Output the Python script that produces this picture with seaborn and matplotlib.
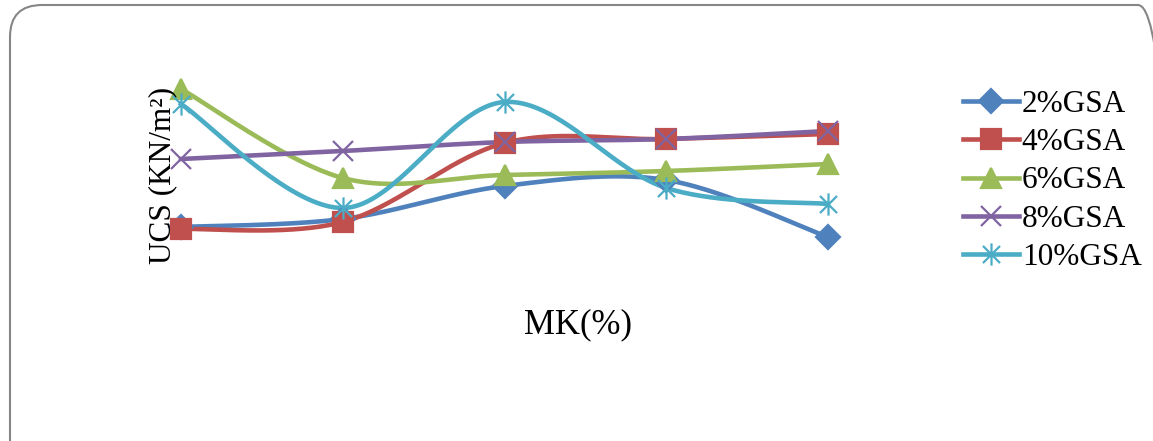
import numpy as np
import pandas as pd
import seaborn as sns
import matplotlib.pyplot as plt
from matplotlib.lines import Line2D
from matplotlib.patches import FancyBboxPatch
from matplotlib.path import Path

# ---------- DATA (arbitrary UCS units) ----------
mk = [0, 1, 2, 3, 4]
gsa_2 = [73, 81, 114, 120, 63]
gsa_4 = [71, 78, 157, 161, 166]
gsa_6 = [211, 122, 125, 129, 136]
gsa_8 = [141, 149, 158, 161, 169]
gsa_10 = [196, 92, 198, 112, 96]

names = ["2%GSA", "4%GSA", "6%GSA", "8%GSA", "10%GSA"]
series = [gsa_2, gsa_4, gsa_6, gsa_8, gsa_10]
colors = ["#4F81BD", "#C0504D", "#9BBB59", "#8064A2", "#4BACC6"]

# excel "star" marker: an x with a vertical bar through it
star = Path([(-1, -1), (1, 1), (-1, 1), (1, -1), (0, -1.3), (0, 1.3)],
            [Path.MOVETO, Path.LINETO, Path.MOVETO, Path.LINETO, Path.MOVETO, Path.LINETO])
markers = ["D", "s", "^", "x", star]
msizes = [12, 14, 14, 14, 16]


def smooth(xs, ys, n=40):
    # excel-style smoothed line (bezier with catmull-rom control points)
    p = np.column_stack([xs, ys]).astype(float)
    p = np.vstack([p[0], p, p[-1]])
    out = []
    t = np.linspace(0, 1, n)[:, None]
    for i in range(1, len(p) - 2):
        p0, p1, p2, p3 = p[i - 1], p[i], p[i + 1], p[i + 2]
        b1 = p1 + (p2 - p0) / 6
        b2 = p2 - (p3 - p1) / 6
        seg = ((1 - t) ** 3) * p1 + 3 * ((1 - t) ** 2) * t * b1 + 3 * (1 - t) * t ** 2 * b2 + t ** 3 * p2
        out.append(seg if i == 1 else seg[1:])
    return np.vstack(out)


rows = []
for name, ys in zip(names, series):
    c = smooth(mk, ys)
    rows.append(pd.DataFrame({"x": c[:, 0], "y": c[:, 1], "series": name}))
curves = pd.concat(rows)

points = pd.DataFrame({
    "x": np.tile(mk, len(names)),
    "y": np.concatenate(series),
    "series": np.repeat(names, len(mk)),
})

# ---------- PLOT ----------
plt.rcParams["font.family"] = ["Liberation Serif", "DejaVu Serif"]
fig = plt.figure(figsize=(11.53, 4.41), dpi=100)

# rounded chart-area border (runs off the right and bottom edges)
border = FancyBboxPatch((10, -30), 1160, 466,
                        boxstyle="round,pad=0,rounding_size=32",
                        transform=None, facecolor="none",
                        edgecolor="#868686", linewidth=1.5)
fig.patches.append(border)

ax = fig.add_axes([181 / 1153, 141 / 441, 647 / 1153, 250 / 441])
ax.patch.set_alpha(0)

sns.lineplot(data=curves, x="x", y="y", hue="series", palette=colors,
             linewidth=3.3, sort=False, legend=False, ax=ax, clip_on=False)

for name, col, mkr, ms in zip(names, colors, markers, msizes):
    sub = points[points["series"] == name]
    ax.plot(sub["x"], sub["y"], linestyle="none", marker=mkr, markersize=ms,
            color=col, markeredgecolor=col, markeredgewidth=1.6, clip_on=False)

ax.set_xlim(0, 4)
ax.set_ylim(0, 250)
ax.axis("off")

fig.text(163 / 1153, 1 - 175 / 441, "UCS (KN/m²)", rotation=90, fontsize=22.5,
         ha="center", va="center")
fig.text(578 / 1153, 1 - 325 / 441, "MK(%)", fontsize=25, ha="center", va="center")

handles = [Line2D([], [], color=c, linewidth=3.3, marker=m, markersize=s,
                  markeredgecolor=c, markeredgewidth=1.6)
           for c, m, s in zip(colors, markers, msizes)]
fig.legend(handles, names, loc="center left", bbox_to_anchor=(950 / 1153, 1 - 181 / 441),
           frameon=False, fontsize=22.5, handlelength=1.8, handletextpad=0.1,
           labelspacing=0.3, borderaxespad=0)

fig.savefig("out.png", dpi=100)
